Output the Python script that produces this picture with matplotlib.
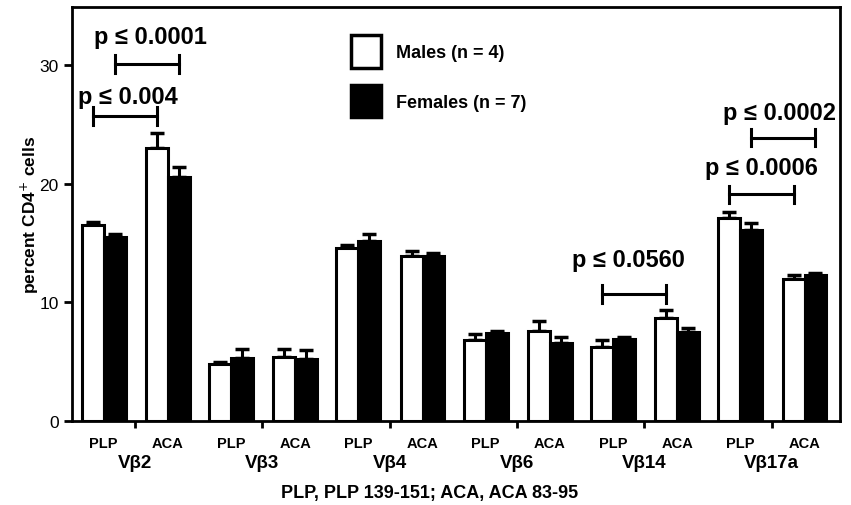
import matplotlib
matplotlib.use("Agg")
import matplotlib.pyplot as plt
import matplotlib.transforms as mtransforms
import numpy as np

plt.rcParams['font.family'] = ['Liberation Sans', 'DejaVu Sans']

# datos
grupos = ['Vβ2', 'Vβ3', 'Vβ4', 'Vβ6', 'Vβ14', 'Vβ17a']
peptidos = ['PLP', 'ACA']

plp_machos    = [16.5, 4.8, 14.6, 6.8, 6.2, 17.1]
plp_machos_e  = [0.3, 0.2, 0.2, 0.5, 0.6, 0.5]
plp_hembras   = [15.5, 5.3, 15.2, 7.4, 6.9, 16.1]
plp_hembras_e = [0.3, 0.8, 0.6, 0.2, 0.2, 0.6]
aca_machos    = [23.0, 5.4, 13.9, 7.6, 8.7, 12.0]
aca_machos_e  = [1.3, 0.7, 0.4, 0.8, 0.7, 0.3]
aca_hembras   = [20.6, 5.2, 13.9, 6.6, 7.5, 12.3]
aca_hembras_e = [0.8, 0.8, 0.3, 0.5, 0.3, 0.2]

# comparaciones: (grupo, barra1, barra2, altura corchete, texto)
# barras: 0 = PLP macho, 1 = PLP hembra, 2 = ACA macho, 3 = ACA hembra
comparaciones = [
    (0, 0, 2, 25.7, 'p ≤ 0.004'),
    (0, 1, 3, 30.1, 'p ≤ 0.0001'),
    (4, 0, 2, 10.7, 'p ≤ 0.0560'),
    (5, 0, 2, 19.1, 'p ≤ 0.0006'),
    (5, 1, 3, 23.9, 'p ≤ 0.0002'),
]
# donde va cada texto (centro)
texto_x = [-0.056, 0.117, 3.872, 4.916, 5.058]
texto_y = [27.4, 32.4, 13.6, 21.4, 26.0]

x = np.arange(len(grupos))
ancho = 0.172
offsets = [-0.333, -0.161, 0.171, 0.343]

fig = plt.figure(figsize=(8.51, 5.06), dpi=100)
ax = fig.add_axes([0.0846, 0.166, 0.9024, 0.818])

series = [(plp_machos, plp_machos_e, 'white'),
          (plp_hembras, plp_hembras_e, 'black'),
          (aca_machos, aca_machos_e, 'white'),
          (aca_hembras, aca_hembras_e, 'black')]

for i, (val, err, col) in enumerate(series):
    pos = x + offsets[i]
    ax.errorbar(pos, val, yerr=[np.zeros(len(val)), err], fmt='none',
                ecolor='black', elinewidth=2.2, capsize=5, capthick=2.5, zorder=2)
    ax.bar(pos, val, width=ancho, color=col, edgecolor='black', linewidth=2.2, zorder=3)

# corchetes de significancia
for k, (g, b1, b2, h, txt) in enumerate(comparaciones):
    xa = x[g] + offsets[b1]
    xb = x[g] + offsets[b2]
    ax.plot([xa, xb], [h, h], color='black', lw=2.2)
    ax.plot([xa, xa], [h - 0.75, h + 0.75], color='black', lw=2.2)
    ax.plot([xb, xb], [h - 0.75, h + 0.75], color='black', lw=2.2)
    ax.text(texto_x[k], texto_y[k], txt, ha='center', va='center',
            fontsize=17, fontweight='bold')

# leyenda
ax.legend(handles=[plt.Rectangle((0, 0), 1, 1, fc='white', ec='black', lw=2.5),
                   plt.Rectangle((0, 0), 1, 1, fc='black', ec='black', lw=2.5)],
          labels=['Males (n = 4)', 'Females (n = 7)'],
          loc='upper left', bbox_to_anchor=(0.342, 0.972), frameon=False,
          handlelength=1.65, handleheight=2.4, handletextpad=0.85, labelspacing=0.95,
          prop={'weight': 'bold', 'size': 13})

ax.set_xlim(-0.496, 5.535)
ax.set_ylim(0, 34.9)
ax.set_yticks([0, 10, 20, 30])
ax.tick_params(axis='y', labelsize=12.5, width=2, length=6, direction='out')
ax.set_xticks(x)
ax.set_xticklabels([''] * len(x))
ax.tick_params(axis='x', which='major', width=2, length=5, direction='out')

pos_menor = np.concatenate([x - 0.247, x + 0.257])
lab_menor = ['PLP'] * len(x) + ['ACA'] * len(x)
ax.set_xticks(pos_menor, minor=True)
ax.set_xticklabels(lab_menor, minor=True, fontsize=10.5, fontweight='bold')
ax.tick_params(axis='x', which='minor', length=0, pad=10.5)

trans = mtransforms.blended_transform_factory(ax.transData, ax.transAxes)
for i, nombre in enumerate(grupos):
    ax.text(x[i], -0.08, nombre, transform=trans, ha='center', va='top',
            fontsize=13.5, fontweight='bold')

for s in ax.spines.values():
    s.set_linewidth(2)

ax.set_ylabel('percent CD4$^{+}$ cells', fontsize=12.5, fontweight='bold')
ax.yaxis.set_label_coords(-0.040, 0.5)
fig.text(0.505, 0.024, 'PLP, PLP 139-151; ACA, ACA 83-95', ha='center', va='center',
         fontsize=13, fontweight='bold')

fig.savefig('out.png', dpi=100)
